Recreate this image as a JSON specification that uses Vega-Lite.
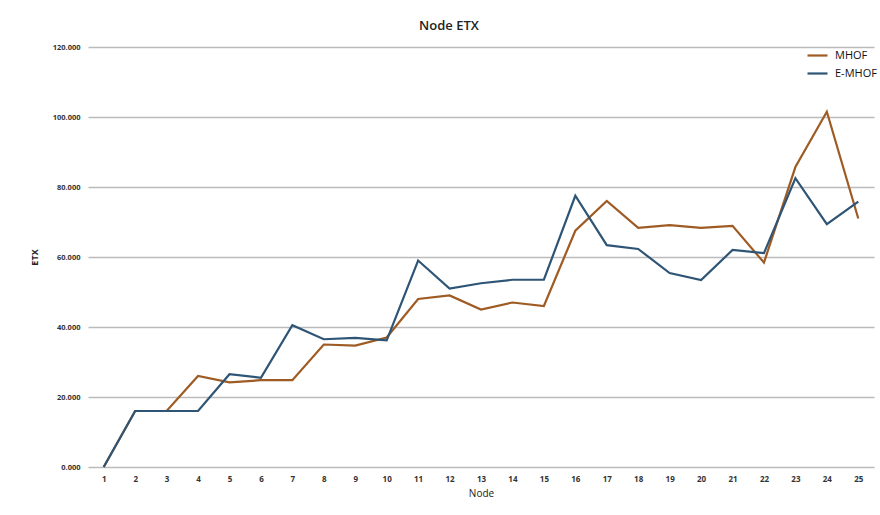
{
  "$schema": "https://vega.github.io/schema/vega-lite/v6.json",
  "width": 786,
  "height": 420,
  "autosize": {"type": "none"},
  "padding": {"left": 88, "top": 47, "right": 6, "bottom": 48},
  "background": "white",
  "title": {"text": "Node ETX", "fontSize": 13, "font": "Open Sans", "fontWeight": 600, "color": "#222", "dx": -32, "offset": 10},
  "config": {"view": {"stroke": null}, "font": "Open Sans"},
  "data": {"values": [
    {"node": 1, "series": "MHOF", "etx": 0}, {"node": 1, "series": "E-MHOF", "etx": 0},
    {"node": 2, "series": "MHOF", "etx": 16}, {"node": 2, "series": "E-MHOF", "etx": 16},
    {"node": 3, "series": "MHOF", "etx": 16}, {"node": 3, "series": "E-MHOF", "etx": 16},
    {"node": 4, "series": "MHOF", "etx": 26}, {"node": 4, "series": "E-MHOF", "etx": 16},
    {"node": 5, "series": "MHOF", "etx": 24.2}, {"node": 5, "series": "E-MHOF", "etx": 26.5},
    {"node": 6, "series": "MHOF", "etx": 24.8}, {"node": 6, "series": "E-MHOF", "etx": 25.5},
    {"node": 7, "series": "MHOF", "etx": 24.8}, {"node": 7, "series": "E-MHOF", "etx": 40.5},
    {"node": 8, "series": "MHOF", "etx": 35}, {"node": 8, "series": "E-MHOF", "etx": 36.5},
    {"node": 9, "series": "MHOF", "etx": 34.7}, {"node": 9, "series": "E-MHOF", "etx": 36.9},
    {"node": 10, "series": "MHOF", "etx": 37}, {"node": 10, "series": "E-MHOF", "etx": 36.2},
    {"node": 11, "series": "MHOF", "etx": 48}, {"node": 11, "series": "E-MHOF", "etx": 59},
    {"node": 12, "series": "MHOF", "etx": 49}, {"node": 12, "series": "E-MHOF", "etx": 51},
    {"node": 13, "series": "MHOF", "etx": 45}, {"node": 13, "series": "E-MHOF", "etx": 52.5},
    {"node": 14, "series": "MHOF", "etx": 47}, {"node": 14, "series": "E-MHOF", "etx": 53.5},
    {"node": 15, "series": "MHOF", "etx": 46}, {"node": 15, "series": "E-MHOF", "etx": 53.5},
    {"node": 16, "series": "MHOF", "etx": 67.5}, {"node": 16, "series": "E-MHOF", "etx": 77.5},
    {"node": 17, "series": "MHOF", "etx": 76}, {"node": 17, "series": "E-MHOF", "etx": 63.4},
    {"node": 18, "series": "MHOF", "etx": 68.3}, {"node": 18, "series": "E-MHOF", "etx": 62.3},
    {"node": 19, "series": "MHOF", "etx": 69.1}, {"node": 19, "series": "E-MHOF", "etx": 55.4},
    {"node": 20, "series": "MHOF", "etx": 68.3}, {"node": 20, "series": "E-MHOF", "etx": 53.4},
    {"node": 21, "series": "MHOF", "etx": 68.9}, {"node": 21, "series": "E-MHOF", "etx": 62},
    {"node": 22, "series": "MHOF", "etx": 58.4}, {"node": 22, "series": "E-MHOF", "etx": 61.1},
    {"node": 23, "series": "MHOF", "etx": 85.7}, {"node": 23, "series": "E-MHOF", "etx": 82.5},
    {"node": 24, "series": "MHOF", "etx": 101.5}, {"node": 24, "series": "E-MHOF", "etx": 69.4},
    {"node": 25, "series": "MHOF", "etx": 71}, {"node": 25, "series": "E-MHOF", "etx": 75.8}
  ]},
  "mark": {"type": "line", "strokeWidth": 2.2},
  "encoding": {
    "x": {
      "field": "node", "type": "ordinal", "sort": null,
      "scale": {"type": "point", "padding": 0.5},
      "axis": {"title": "Node", "labelAngle": 0, "labelFontSize": 8, "labelFontWeight": "bold", "labelColor": "#333", "ticks": false, "domain": false, "grid": false, "labelPadding": 8, "titleFontSize": 10, "titleFontWeight": "normal", "titleColor": "#222", "titlePadding": 5}
    },
    "y": {
      "field": "etx", "type": "quantitative",
      "scale": {"domain": [0, 120], "nice": false},
      "axis": {"title": "ETX", "values": [0, 20, 40, 60, 80, 100, 120], "format": ".3f", "labelFontSize": 7.5, "labelFontWeight": "bold", "labelColor": "#333", "ticks": false, "domain": false, "grid": true, "gridColor": "#bbbbbb", "gridWidth": 1.3, "labelPadding": 8, "titleFontSize": 9, "titleFontWeight": "bold", "titleColor": "#222", "titlePadding": 13}
    },
    "color": {
      "field": "series", "type": "nominal",
      "scale": {"domain": ["MHOF", "E-MHOF"], "range": ["#9E5B23", "#2E5575"]},
      "legend": {"title": null, "orient": "none", "legendX": 718, "legendY": -3, "symbolType": "stroke", "symbolStrokeWidth": 2.2, "symbolSize": 400, "labelFontSize": 11, "labelColor": "#111", "rowPadding": 1, "labelOffset": 6}
    }
  }
}
